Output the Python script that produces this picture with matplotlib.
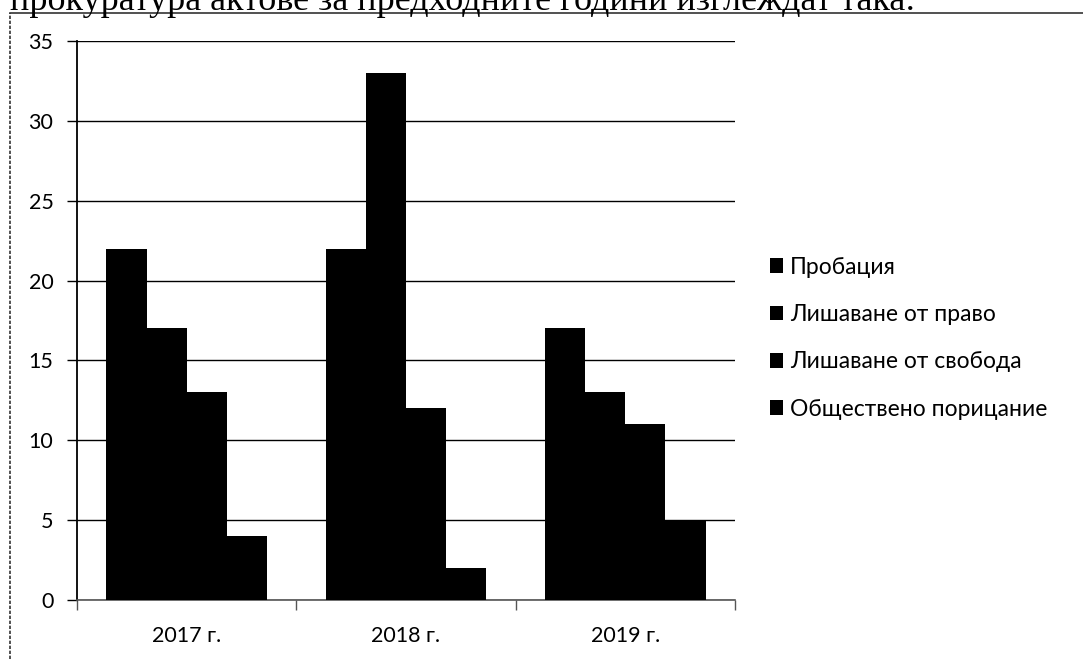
import numpy as np
import matplotlib.pyplot as plt
from matplotlib.lines import Line2D

years = ["2017 г.", "2018 г.", "2019 г."]
series = ["Пробация", "Лишаване от право", "Лишаване от свобода", "Обществено порицание"]
probation = [22, 22, 17]
right_ban = [17, 33, 13]
prison = [13, 12, 11]
reprimand = [4, 2, 5]
values = [probation, right_ban, prison, reprimand]
yticks = [0, 5, 10, 15, 20, 25, 30, 35]

W, H = 1083, 659
fig = plt.figure(figsize=(W / 100, H / 100), dpi=100)
ax = fig.add_axes([77 / W, 1 - 600 / H, (735 - 77) / W, (600 - 41) / H])

x = np.arange(len(years))
bw = 0.183
for i, vals in enumerate(values):
    ax.bar(x + (i - 1.5) * bw, vals, width=bw, color="black", label=series[i], zorder=3)

ax.set_xlim(-0.5, 2.5)
ax.set_ylim(0, 35)
ax.set_yticks(yticks)
ax.set_xticks(x)
ax.set_xticklabels(years)
ax.set_xticks([-0.5, 0.5, 1.5, 2.5], minor=True)
ax.yaxis.grid(True, color="black", linewidth=1.0, zorder=0)

for s in ["top", "right"]:
    ax.spines[s].set_visible(False)
ax.spines["left"].set_color("black")
ax.spines["left"].set_linewidth(1.3)
ax.spines["bottom"].set_color("#555555")
ax.spines["bottom"].set_linewidth(1.2)

ax.tick_params(axis="y", length=7, width=1, pad=10, labelsize=15.5, colors="black")
ax.tick_params(axis="x", which="major", length=0, pad=19, labelsize=15.5)
ax.tick_params(axis="x", which="minor", length=7, width=1, color="#555555")
for lab in ax.get_xticklabels() + ax.get_yticklabels():
    lab.set_family("Lato")

leg = fig.legend(loc="upper left", bbox_to_anchor=(749 / W, 1 - 236 / H),
                 frameon=False, handlelength=0.6, handleheight=0.6,
                 handletextpad=0.3, labelspacing=1.15,
                 prop={"family": "Lato", "size": 16.5})

# scanned page frame and cut-off sentence above the chart
fig.add_artist(Line2D([10 / W, 1], [1 - 13 / H, 1 - 13 / H], color="#333333", lw=1.2,
                      transform=fig.transFigure))
fig.add_artist(Line2D([10 / W, 10 / W], [0, 1 - 13 / H], color="#333333", lw=1.2,
                      transform=fig.transFigure, linestyle=(0, (2, 1))))
fig.text(10 / W, 1 - 10 / H, "прокуратура актове за предходните години изглеждат така:",
         family="Liberation Serif", fontsize=26, va="baseline", ha="left")

fig.savefig("out.png", dpi=100)
